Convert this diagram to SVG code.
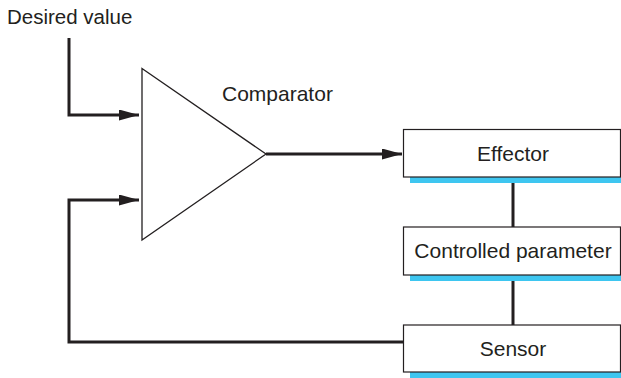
<svg xmlns="http://www.w3.org/2000/svg" width="621" height="378" viewBox="0 0 621 378">
<defs>
<style>
.lbl{font-family:"Liberation Sans",Arial,sans-serif;font-size:21px;fill:#231f20}
.box{fill:#fff;stroke:#231f20;stroke-width:1.2}
.bar{fill:#3ec6f0}
.wire{fill:none;stroke:#231f20;stroke-width:3}
</style>
<marker id="ah" markerUnits="userSpaceOnUse" markerWidth="20" markerHeight="11" refX="20" refY="5.5" orient="auto">
<path d="M0,0 L20,5.5 L0,11 Z" fill="#231f20"/>
</marker>
</defs>
<rect width="621" height="378" fill="#fff"/>
<g id="desired-value">
<text class="lbl" x="7" y="24" style="font-size:20.5px">Desired value</text>
</g>
<g id="comparator">
<polygon points="142,68.5 266,154 142,240" fill="#fff" stroke="#231f20" stroke-width="1.3"/>
<text class="lbl" x="222" y="101">Comparator</text>
</g>
<g id="effector">
<rect class="bar" x="410" y="177" width="211" height="6"/>
<rect class="box" x="403.5" y="129.5" width="217" height="47.5"/>
<text class="lbl" x="513" y="161" text-anchor="middle">Effector</text>
</g>
<g id="controlled-parameter">
<rect class="bar" x="410" y="275" width="211" height="6"/>
<rect class="box" x="403.5" y="227" width="217" height="48"/>
<text class="lbl" x="513" y="258" text-anchor="middle">Controlled parameter</text>
</g>
<g id="sensor">
<rect class="bar" x="410" y="372" width="211" height="6"/>
<rect class="box" x="403.5" y="325" width="217" height="47"/>
<text class="lbl" x="513" y="355.5" text-anchor="middle">Sensor</text>
</g>
<g id="connectors">
<polyline class="wire" points="69,38 69,115 139,115" marker-end="url(#ah)"/>
<polyline class="wire" points="403,342 69,342 69,200 139,200" marker-end="url(#ah)"/>
<line class="wire" x1="266" y1="154" x2="402" y2="154" marker-end="url(#ah)"/>
<line class="wire" x1="513" y1="183" x2="513" y2="227"/>
<line class="wire" x1="513" y1="281" x2="513" y2="325"/>
</g>
</svg>
